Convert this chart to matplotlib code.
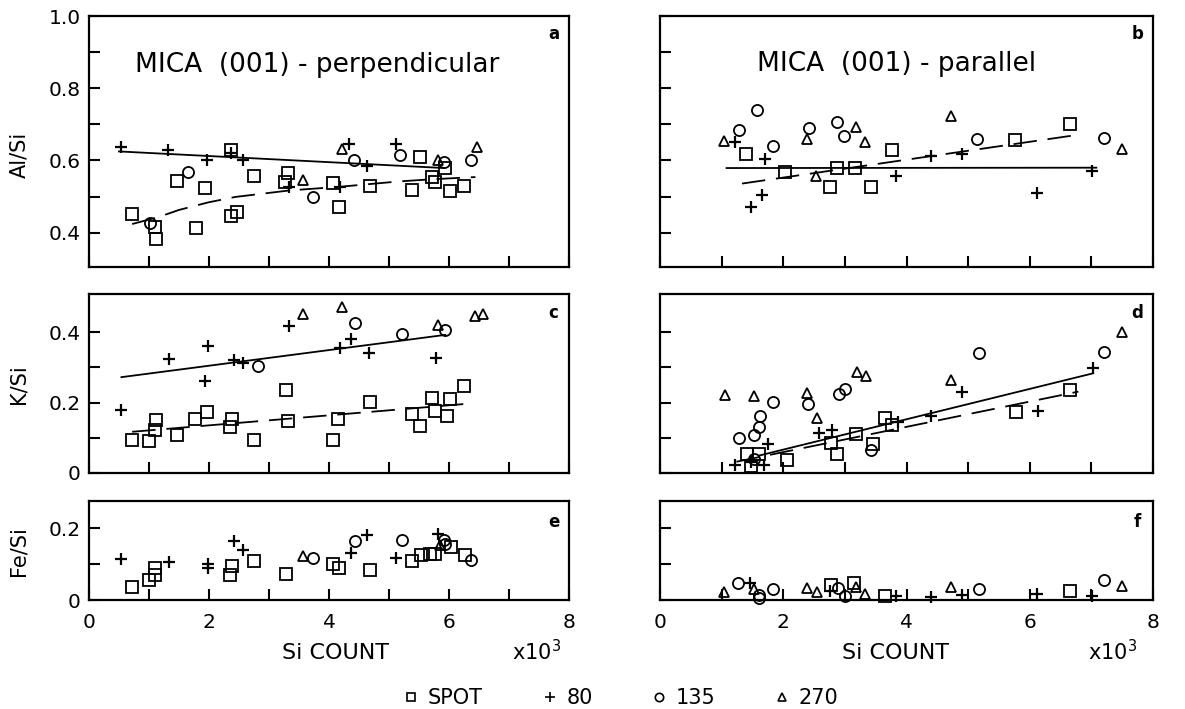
import matplotlib.pyplot as plt
from matplotlib.lines import Line2D

plt.rcParams['font.family'] = ['DejaVu Sans']

# ---- panel a : Al/Si, (001) perpendicular
a_spot_x = [0.72, 1.10, 1.11, 1.47, 1.78, 1.94, 2.36, 2.36, 2.47, 2.75, 3.27, 3.32, 4.07, 4.16, 4.68, 5.39, 5.51, 5.72, 5.77, 5.94, 6.02, 6.25]
a_spot_y = [0.451, 0.415, 0.383, 0.542, 0.413, 0.525, 0.630, 0.446, 0.457, 0.557, 0.539, 0.565, 0.537, 0.471, 0.530, 0.517, 0.609, 0.553, 0.539, 0.579, 0.515, 0.530]
a_80_x = [0.53, 1.32, 1.97, 2.36, 2.56, 3.34, 4.19, 4.34, 4.64, 5.11]
a_80_y = [0.636, 0.630, 0.600, 0.620, 0.600, 0.526, 0.526, 0.646, 0.585, 0.645]
a_135_x = [1.01, 1.65, 3.74, 4.42, 5.19, 5.92, 6.36]
a_135_y = [0.428, 0.569, 0.498, 0.602, 0.616, 0.597, 0.602]
a_270_x = [3.57, 4.22, 5.82, 6.46]
a_270_y = [0.546, 0.632, 0.602, 0.636]
a_fit80_x = [0.50, 5.92]
a_fit80_y = [0.625, 0.579]
a_fitspot_x = [0.72, 1.17, 1.50, 1.99, 2.44, 3.34, 4.17, 5.17, 5.72, 6.44]
a_fitspot_y = [0.424, 0.444, 0.463, 0.484, 0.499, 0.517, 0.527, 0.542, 0.548, 0.554]

# ---- panel b : Al/Si, (001) parallel
b_spot_x = [1.40, 2.03, 2.76, 2.88, 3.17, 3.43, 3.77, 5.76, 6.65]
b_spot_y = [0.618, 0.567, 0.527, 0.578, 0.578, 0.527, 0.629, 0.656, 0.701]
b_80_x = [1.21, 1.47, 1.65, 1.70, 3.83, 4.39, 4.90, 6.11, 7.01]
b_80_y = [0.650, 0.471, 0.504, 0.604, 0.557, 0.613, 0.618, 0.511, 0.571]
b_135_x = [1.28, 1.58, 1.83, 2.41, 2.88, 2.99, 5.15, 7.20]
b_135_y = [0.684, 0.741, 0.639, 0.689, 0.706, 0.667, 0.659, 0.661]
b_270_x = [1.04, 2.38, 2.53, 3.18, 3.32, 4.72, 7.49]
b_270_y = [0.655, 0.659, 0.557, 0.692, 0.652, 0.724, 0.633]
b_fit80_x = [1.08, 7.08]
b_fit80_y = [0.579, 0.580]
b_fitspot_x = [1.33, 6.74]
b_fitspot_y = [0.536, 0.670]

# ---- panel c : K/Si, perpendicular
c_spot_x = [0.72, 1.00, 1.10, 1.11, 1.47, 1.77, 1.96, 2.35, 2.39, 2.75, 3.29, 3.32, 4.07, 4.15, 4.68, 5.39, 5.51, 5.71, 5.77, 5.96, 6.02, 6.25]
c_spot_y = [0.093, 0.091, 0.122, 0.150, 0.107, 0.152, 0.173, 0.130, 0.152, 0.095, 0.236, 0.147, 0.095, 0.152, 0.201, 0.168, 0.133, 0.214, 0.175, 0.161, 0.210, 0.248]
c_80_x = [0.53, 1.33, 1.93, 1.99, 2.41, 2.56, 3.34, 4.18, 4.36, 4.66, 5.79]
c_80_y = [0.180, 0.323, 0.261, 0.361, 0.322, 0.313, 0.416, 0.355, 0.379, 0.341, 0.327]
c_135_x = [2.82, 4.43, 5.21, 5.93]
c_135_y = [0.304, 0.426, 0.395, 0.407]
c_270_x = [3.57, 4.22, 5.82, 6.44, 6.56]
c_270_y = [0.452, 0.470, 0.421, 0.445, 0.450]
c_fit80_x = [0.54, 5.94]
c_fit80_y = [0.272, 0.392]
c_fitspot_x = [0.72, 6.34]
c_fitspot_y = [0.117, 0.197]

# ---- panel d : K/Si, parallel
d_spot_x = [1.41, 1.48, 1.61, 2.06, 2.77, 2.88, 3.18, 3.45, 3.65, 3.77, 5.77, 6.66]
d_spot_y = [0.053, 0.020, 0.053, 0.036, 0.084, 0.053, 0.111, 0.083, 0.156, 0.136, 0.173, 0.236]
d_80_x = [1.22, 1.47, 1.68, 1.75, 2.58, 2.79, 3.87, 4.40, 4.90, 6.13, 7.03]
d_80_y = [0.023, 0.030, 0.023, 0.081, 0.114, 0.121, 0.144, 0.163, 0.231, 0.175, 0.297]
d_135_x = [1.29, 1.52, 1.53, 1.61, 1.62, 1.84, 2.40, 2.90, 3.01, 3.43, 5.17, 7.21]
d_135_y = [0.100, 0.039, 0.109, 0.130, 0.163, 0.201, 0.196, 0.225, 0.238, 0.064, 0.341, 0.344]
d_270_x = [1.06, 1.53, 2.38, 2.54, 3.20, 3.34, 4.73, 7.49]
d_270_y = [0.220, 0.219, 0.228, 0.156, 0.288, 0.275, 0.264, 0.400]
d_fit80_x = [1.62, 7.03]
d_fit80_y = [0.050, 0.283]
d_fitspot_x = [1.24, 6.79]
d_fitspot_y = [0.032, 0.231]

# ---- panel e : Fe/Si, perpendicular
e_spot_x = [0.72, 1.00, 1.10, 1.10, 2.35, 2.39, 2.75, 3.29, 4.07, 4.17, 4.68, 5.39, 5.53, 5.68, 5.77, 6.03, 6.27]
e_spot_y = [0.036, 0.056, 0.089, 0.069, 0.070, 0.094, 0.107, 0.073, 0.099, 0.090, 0.082, 0.107, 0.124, 0.129, 0.129, 0.147, 0.126]
e_80_x = [0.54, 1.34, 1.99, 1.99, 2.41, 2.56, 4.36, 4.64, 5.11, 5.81]
e_80_y = [0.114, 0.106, 0.101, 0.090, 0.163, 0.140, 0.131, 0.180, 0.118, 0.182]
e_135_x = [3.74, 4.43, 5.21, 5.92, 5.94, 6.36]
e_135_y = [0.117, 0.163, 0.166, 0.166, 0.156, 0.110]
e_270_x = [3.57, 5.85]
e_270_y = [0.121, 0.152]

# ---- panel f : Fe/Si, parallel
f_spot_x = [2.77, 3.15, 3.65, 6.66]
f_spot_y = [0.043, 0.046, 0.010, 0.026]
f_80_x = [1.46, 2.76, 3.83, 4.40, 4.90, 6.11, 7.01]
f_80_y = [0.048, 0.026, 0.010, 0.007, 0.014, 0.016, 0.010]
f_135_x = [1.27, 1.60, 1.60, 1.84, 2.89, 3.01, 5.17, 7.20]
f_135_y = [0.048, 0.014, 0.005, 0.030, 0.033, 0.010, 0.030, 0.055]
f_270_x = [1.04, 1.52, 2.38, 2.54, 3.18, 3.33, 4.72, 7.49]
f_270_y = [0.021, 0.030, 0.033, 0.021, 0.035, 0.017, 0.035, 0.040]

legend_labels = ['SPOT', '80', '135', '270']
markers = ['s', '+', 'o', '^']

fig = plt.figure(figsize=(11.85, 7.09), dpi=100)

W, H = 1185.0, 709.0
left_x, left_w = 89 / W, 480 / W
right_x, right_w = 660 / W, 493 / W
rows = [(1 - 267 / H, 251 / H), (1 - 473 / H, 179 / H), (1 - 600 / H, 99 / H)]

ylims = [(0.305, 1.0), (0, 0.508), (0, 0.275)]
yticks = [[0.4, 0.5, 0.6, 0.7, 0.8, 0.9, 1.0], [0, 0.1, 0.2, 0.3, 0.4], [0, 0.1, 0.2]]
ylabs = [['0.4', '', '0.6', '', '0.8', '', '1.0'], ['0', '', '0.2', '', '0.4'], ['0', '', '0.2']]
yaxis_names = ['Al/Si', 'K/Si', 'Fe/Si']
letter_pos = [0.93, 0.895, 0.79]

panels = [
    [(a_spot_x, a_spot_y), (a_80_x, a_80_y), (a_135_x, a_135_y), (a_270_x, a_270_y)],
    [(b_spot_x, b_spot_y), (b_80_x, b_80_y), (b_135_x, b_135_y), (b_270_x, b_270_y)],
    [(c_spot_x, c_spot_y), (c_80_x, c_80_y), (c_135_x, c_135_y), (c_270_x, c_270_y)],
    [(d_spot_x, d_spot_y), (d_80_x, d_80_y), (d_135_x, d_135_y), (d_270_x, d_270_y)],
    [(e_spot_x, e_spot_y), (e_80_x, e_80_y), (e_135_x, e_135_y), (e_270_x, e_270_y)],
    [(f_spot_x, f_spot_y), (f_80_x, f_80_y), (f_135_x, f_135_y), (f_270_x, f_270_y)],
]
fits = [
    [(a_fit80_x, a_fit80_y), (a_fitspot_x, a_fitspot_y)],
    [(b_fit80_x, b_fit80_y), (b_fitspot_x, b_fitspot_y)],
    [(c_fit80_x, c_fit80_y), (c_fitspot_x, c_fitspot_y)],
    [(d_fit80_x, d_fit80_y), (d_fitspot_x, d_fitspot_y)],
    None, None,
]
letters = ['a', 'b', 'c', 'd', 'e', 'f']

for i in range(6):
    row, col = i // 2, i % 2
    bottom, height = rows[row]
    if col == 0:
        ax = fig.add_axes([left_x, bottom, left_w, height])
    else:
        ax = fig.add_axes([right_x, bottom, right_w, height])

    # punkte
    for (xs, ys), m in zip(panels[i], markers):
        if m == '+':
            ax.plot(xs, ys, ls='none', marker='+', ms=8, mew=1.6, color='black', clip_on=False)
        else:
            ax.plot(xs, ys, ls='none', marker=m, ms=8 if m != '^' else 7.5, mfc='none',
                    mec='black', mew=1.3, clip_on=False)

    # fit lines: solid = 80, dashed = SPOT
    if fits[i] is not None:
        (fx, fy), (sx, sy) = fits[i]
        ax.plot(fx, fy, color='black', lw=1.3)
        ax.plot(sx, sy, color='black', lw=1.3, ls=(0, (13, 6)))

    ax.set_xlim(0, 8)
    ax.set_ylim(ylims[row])
    ax.set_xticks(range(9))
    ax.set_yticks(yticks[row])
    if row == 2:
        ax.set_xticklabels(['0', '', '2', '', '4', '', '6', '', '8'])
    else:
        ax.set_xticklabels([])
    if col == 0:
        ax.set_yticklabels(ylabs[row])
    else:
        ax.set_yticklabels([])
    ax.tick_params(direction='in', length=8, width=1.5, labelsize=14.5, pad=6)
    ax.tick_params(axis='x', pad=9)
    for s in ax.spines.values():
        s.set_linewidth(1.6)

    ax.text(0.968, letter_pos[row], letters[i], transform=ax.transAxes, ha='center',
            va='center', fontsize=12, fontweight='bold')

    if i == 0:
        ax.text(0.475, 0.805, 'MICA  (001) - perpendicular', transform=ax.transAxes,
                ha='center', va='center', fontsize=19)
    if i == 1:
        ax.text(0.48, 0.81, 'MICA  (001) - parallel', transform=ax.transAxes,
                ha='center', va='center', fontsize=19)

# achsen beschriftung
for name, yc in zip(yaxis_names, [155, 384, 551]):
    fig.text(19 / W, 1 - yc / H, name, rotation=90, ha='center', va='center', fontsize=15)

for xc, xe in [(335, 537), (895, 1113)]:
    fig.text(xc / W, 1 - 653 / H, 'Si COUNT', ha='center', va='center', fontsize=16)
    fig.text(xe / W, 1 - 652 / H, r'x10$^3$', ha='center', va='center', fontsize=15)

handles = [Line2D([], [], ls='none', marker=m, ms=6 if m != '+' else 7, mfc='none', mec='black',
                  mew=1.2, color='black') for m in markers]
fig.legend(handles, legend_labels, loc='center', bbox_to_anchor=(0.523, 0.015), ncol=4,
           frameon=False, fontsize=15, handlelength=1.0, handletextpad=0.3, columnspacing=2.7)

plt.savefig('out.png', dpi=100)
